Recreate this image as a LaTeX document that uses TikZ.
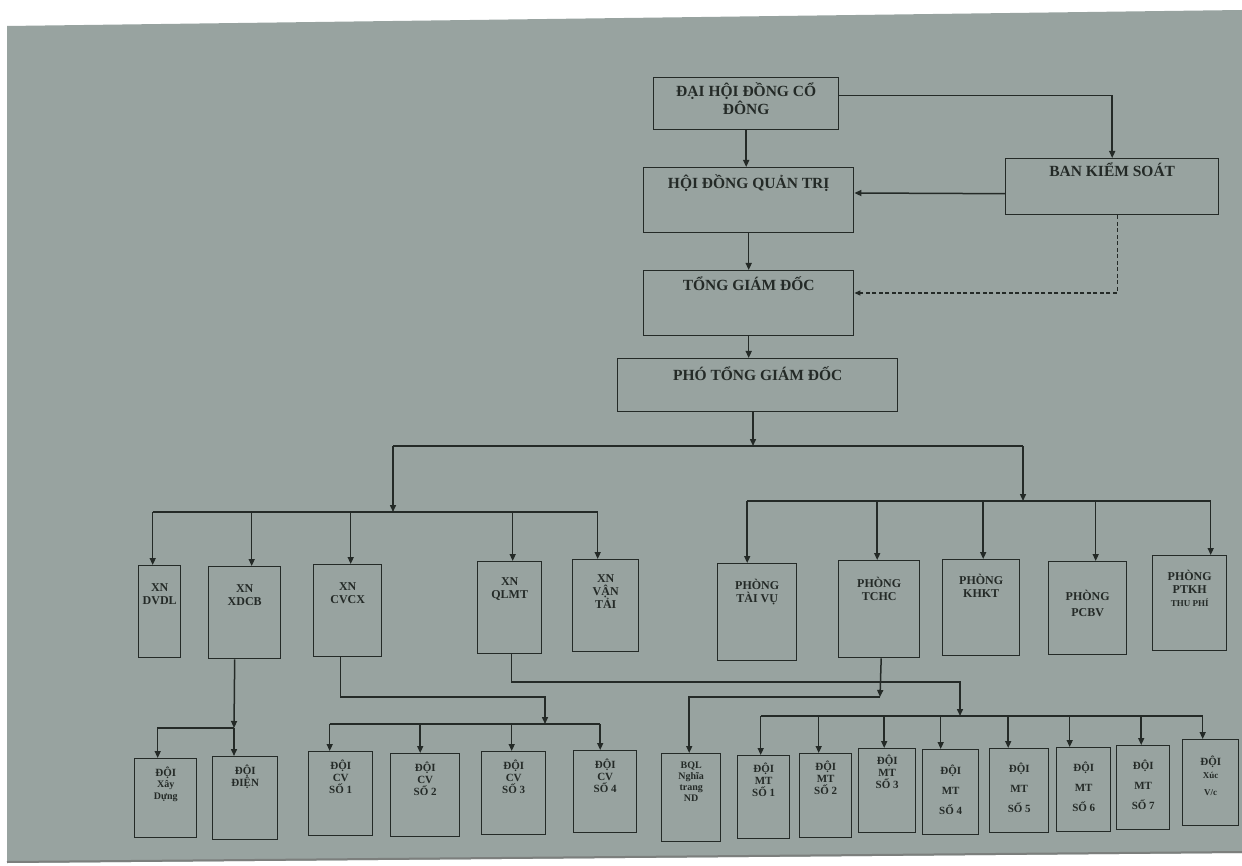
\documentclass[tikz,border=0pt]{standalone}
\usepackage{fontspec}
\setmainfont{Liberation Serif}
\usetikzlibrary{arrows.meta,calc}
\definecolor{paper}{RGB}{152,163,160}
\definecolor{ink}{RGB}{36,42,39}
\newcommand{\cell}[4]{\parbox[t][#2pt][t]{#1pt}{\centering\rule{0pt}{#3pt}#4}}
\tikzset{
  unit/.style ={draw=ink,line width=1.4pt,inner sep=0pt,anchor=north west,text=ink,
                font=\bfseries\fontsize{11}{12}\selectfont},
  head/.style ={unit,font=\bfseries\fontsize{15.5}{16}\selectfont},
  dept/.style ={unit,font=\bfseries\fontsize{12}{13}\selectfont},
  arr/.style  ={draw=ink,line width=1.5pt,-{Triangle[length=7pt,width=6pt]}},
  lin/.style  ={draw=ink,line width=1.5pt},
  dsh/.style  ={draw=ink,line width=1.2pt,dash pattern=on 4pt off 2.5pt,
                -{Triangle[length=6pt,width=5pt]}},
}

\begin{document}
\begin{tikzpicture}[x=1pt,y=-1pt]
\useasboundingbox (0,0) rectangle (1242,866);
\fill[white] (0,0) rectangle (1242,866);
\fill[paper] (7,26) -- (1242,10) -- (1242,853) -- (7,863) -- cycle;
\draw[ink!60,line width=2pt] (7,862) -- (1242,852);

\node[head] (dhcd) at (653,77)  {\cell{185}{52}{19}{ĐẠI HỘI ĐỒNG CỔ\\ĐÔNG}};
\node[head] (bks)  at (1005,158) {\cell{213}{56}{18}{BAN KIỂM SOÁT}};
\node[head] (hdqt) at (643,167) {\cell{210}{65}{21}{HỘI ĐỒNG QUẢN TRỊ}};
\node[head] (tgd)  at (643,270) {\cell{210}{65}{20}{TỔNG GIÁM ĐỐC}};
\node[head] (ptgd) at (617,358) {\cell{280}{53}{22}{PHÓ TỔNG GIÁM ĐỐC}};

\node[dept] (dvdl)   at (138,565) {\cell{42}{92}{26}{XN\\DVDL}};
\node[dept] (xdcb)   at (208,566) {\cell{72}{92}{26}{XN\\XDCB}};
\node[dept] (cvcx)   at (313,564) {\cell{68}{92}{26}{XN\\CVCX}};
\node[dept] (qlmt)   at (477,561) {\cell{64}{92}{24}{XN\\QLMT}};
\node[dept] (vantai) at (572,559) {\cell{66}{92}{23}{XN\\VẬN\\TẢI}};

\node[dept] (taivu) at (717,563)  {\cell{79}{97}{26}{PHÒNG\\TÀI VỤ}};
\node[dept] (tchc)  at (838,560)  {\cell{81}{97}{27}{PHÒNG\\TCHC}};
\node[dept] (khkt)  at (942,559)  {\cell{77}{96}{25}{PHÒNG\\KHKT}};
\node[dept] (pcbv)  at (1048,561) {\cell{78}{93}{39}{PHÒNG\\[3pt]PCBV}};
\node[dept] (ptkh)  at (1152,555) {\cell{74}{95}{25}{PHÒNG\\PTKH\\{\fontsize{9}{10}\selectfont THU PHÍ}}};

\node[unit] (xd)   at (134,758) {\cell{62}{79}{18}{ĐỘI\\{\fontsize{10}{11}\selectfont Xây\\Dựng}}};
\node[unit] (dien) at (212,756) {\cell{65}{83}{18}{ĐỘI\\ĐIỆN}};
\node[unit] (cv1)  at (308,751) {\cell{64}{84}{18}{ĐỘI\\CV\\SỐ 1}};
\node[unit] (cv2)  at (390,753) {\cell{69}{83}{18}{ĐỘI\\CV\\SỐ 2}};
\node[unit] (cv3)  at (481,751) {\cell{64}{83}{18}{ĐỘI\\CV\\SỐ 3}};
\node[unit] (cv4)  at (573,750) {\cell{63}{82}{18}{ĐỘI\\CV\\SỐ 4}};

\node[unit,font=\bfseries\fontsize{10}{11}\selectfont] (bql) at (661,753) {\cell{59}{88}{15}{BQL\\Nghĩa\\trang\\ND}};
\node[unit] (mt1) at (737,755)  {\cell{52}{83}{17}{ĐỘI\\MT\\SỐ 1}};
\node[unit] (mt2) at (799,753)  {\cell{52}{84}{17}{ĐỘI\\MT\\SỐ 2}};
\node[unit] (mt3) at (858,748)  {\cell{57}{84}{16}{ĐỘI\\MT\\SỐ 3}};
\node[unit] (mt4) at (922,749)  {\cell{56}{85}{25}{ĐỘI\\[8pt]MT\\[8pt]SỐ 4}};
\node[unit] (mt5) at (989,748)  {\cell{59}{84}{24}{ĐỘI\\[8pt]MT\\[8pt]SỐ 5}};
\node[unit] (mt6) at (1056,747) {\cell{54}{84}{24}{ĐỘI\\[8pt]MT\\[8pt]SỐ 6}};
\node[unit] (mt7) at (1116,745) {\cell{53}{84}{24}{ĐỘI\\[8pt]MT\\[8pt]SỐ 7}};
\node[unit] (xuc) at (1182,739) {\cell{56}{86}{26}{ĐỘI\\[3pt]{\fontsize{9}{10}\selectfont Xúc\\[5pt]V/c}}};

\coordinate (split)  at (753,446);
\coordinate (splitl) at (393,446);
\coordinate (splitr) at (1023,446);
\coordinate (xnbus)  at (393,512);
\coordinate (pbus)   at (1023,501);
\coordinate (xdj)    at (234,728);
\coordinate (cvk)    at (545,697);
\coordinate (cvj)    at (545,724);
\coordinate (mtk)    at (960,682);
\coordinate (mtj)    at (960,716);
\coordinate (bqk)    at (880,697);

\draw[arr] ([yshift=8pt]dhcd.east) -| (bks.north);
\draw[arr] (dhcd.south) -- (dhcd.south |- hdqt.north);
\draw[arr] ([yshift=-7pt]bks.west) -- (hdqt.east |- 0,193);
\draw[arr] (hdqt.south) -- (tgd.north);
\draw[dsh] ([xshift=5pt]bks.south) |- (tgd.east |- 0,293);
\draw[arr] (tgd.south) -- (tgd.south |- ptgd.north);
\draw[arr] (ptgd.south -| split) -- (split);
\draw[lin] (splitl) -- (splitr);
\draw[arr] (splitl) -- (xnbus);
\draw[arr] (splitr) -- (pbus);

\draw[lin] ([xshift=-7pt]dvdl.north |- xnbus) -- ([xshift=-8pt]vantai.north |- xnbus);
\foreach \n/\d in {dvdl/-7,xdcb/7,cvcx/3,qlmt/3,vantai/-8}
  \draw[arr] ([xshift=\d pt]\n.north |- xnbus) -- ([xshift=\d pt]\n.north);
\draw[lin] ([xshift=-10pt]taivu.north |- pbus) -- ([xshift=21pt]ptkh.north |- pbus);
\foreach \n/\d in {taivu/-10,tchc/-2,khkt/2,pcbv/8,ptkh/21}
  \draw[arr] ([xshift=\d pt]\n.north |- pbus) -- ([xshift=\d pt]\n.north);

\draw[arr] ([xshift=-10pt]xdcb.south) -- (xdj);
\draw[arr] (xdj) -- (xdj |- dien.north);
\draw[arr] (xdj) -| ([xshift=-8pt]xd.north);

\draw[arr] ([xshift=-7pt]cvcx.south) |- (cvk) -- (cvj);
\draw[lin] ([xshift=-11pt]cv1.north |- cvj) -- ([xshift=-5pt]cv4.north |- cvj);
\foreach \n/\d in {cv1/-11,cv2/-5,cv3/-2,cv4/-5}
  \draw[arr] ([xshift=\d pt]\n.north |- cvj) -- ([xshift=\d pt]\n.north);

\draw[arr] ([xshift=2pt]qlmt.south) |- (mtk) -- (mtj);
\draw[arr] ([xshift=2pt]tchc.south) -- (bqk);
\draw[arr] (bqk) -| ([xshift=-2pt]bql.north);
\draw[lin] ([xshift=-3pt]mt1.north |- mtj) -- ([xshift=-8pt]xuc.north |- mtj);
\foreach \n/\d in {mt1/-3,mt2/-7,mt3/-3,mt4/-10,mt5/-11,mt6/-14,mt7/-2,xuc/-8}
  \draw[arr] ([xshift=\d pt]\n.north |- mtj) -- ([xshift=\d pt]\n.north);
\end{tikzpicture}
\end{document}
